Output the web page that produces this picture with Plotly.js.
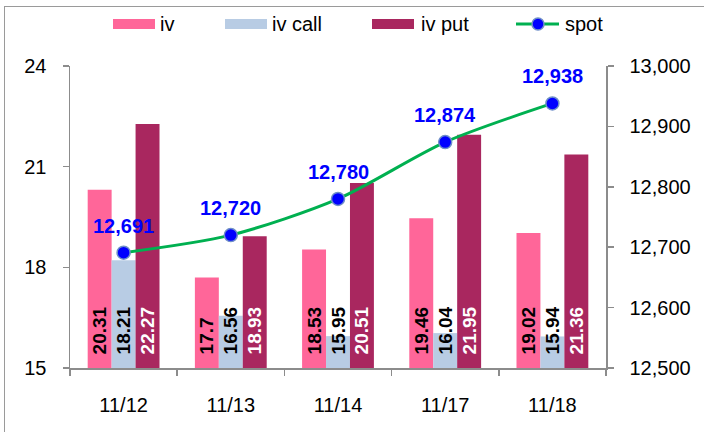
<!DOCTYPE html>
<html><head><meta charset="utf-8">
<script src="https://cdn.plot.ly/plotly-3.0.1.min.js"></script>
<style>
html,body{margin:0;padding:0;background:#fff;overflow:hidden;}
#chart{position:absolute;left:0;top:0;width:704px;height:432px;}
#frame{position:absolute;left:4px;top:6px;width:760px;height:500px;border:1px solid #9a9a9a;pointer-events:none;}
</style></head>
<body>
<div id="chart"></div>
<div id="frame"></div>
<script>
const categories = ['11/12','11/13','11/14','11/17','11/18'];
const iv     = [20.31, 17.7, 18.53, 19.46, 19.02];
const ivCall = [18.21, 16.56, 15.95, 16.04, 15.94];
const ivPut  = [22.27, 18.93, 20.51, 21.95, 21.36];
const spot   = [12691, 12720, 12780, 12874, 12938];
const leftTicks = [15, 18, 21, 24];
const rightTicks = [12500, 12600, 12700, 12800, 12900, 13000];

const BASE = 15;
const FONT = 'Liberation Sans, Arial, sans-serif';
const pad = '\u00a0\u00a0';
function barTrace(name, vals, color, txtColor){
  return {
    type:'bar', name:name, x:categories, y:vals.map(v=>v-BASE), base:BASE,
    marker:{color:color, line:{width:0}},
    text:vals.map(v=>pad+String(v)), textposition:'inside', insidetextanchor:'start',
    textangle:-90, constraintext:'none', cliponaxis:false,
    textfont:{family:FONT, size:19, color:txtColor, weight:'bold'},
    hoverinfo:'skip', showlegend:false
  };
}
const traces = [
  barTrace('iv', iv, '#FF6699', '#000000'),
  barTrace('iv call', ivCall, '#B8CCE4', '#000000'),
  barTrace('iv put', ivPut, '#A9275F', '#FFFFFF'),
  {
    type:'scatter', mode:'lines+markers', name:'spot', x:categories, y:spot, yaxis:'y2',
    line:{color:'#00B050', width:3, shape:'spline', smoothing:0.8},
    marker:{color:'#0000FF', size:13, line:{color:'#6F8FC8', width:1.5}},
    cliponaxis:false, hoverinfo:'skip', showlegend:false
  }
];

const L = 70, R = 606, T = 66, B = 368;
const px = x => (x - L) / (R - L);
const py = y => (B - y) / (B - T);
const legendItems = [
  {name:'iv', color:'#FF6699', kind:'bar', x0:113, tx:158},
  {name:'iv call', color:'#B8CCE4', kind:'bar', x0:225, tx:270},
  {name:'iv put', color:'#A9275F', kind:'bar', x0:372, tx:419},
  {name:'spot', color:'#00B050', kind:'line', x0:516, tx:563}
];
const shapes = [], annotations = [];
legendItems.forEach(it=>{
  if(it.kind==='bar'){
    shapes.push({type:'rect', xref:'paper', yref:'paper', x0:px(it.x0), x1:px(it.x0+42), y0:py(29), y1:py(19),
      fillcolor:it.color, line:{width:0}});
  } else {
    shapes.push({type:'line', xref:'paper', yref:'paper', x0:px(it.x0), x1:px(it.x0+43), y0:py(24), y1:py(24),
      line:{color:it.color, width:3}});
    shapes.push({type:'circle', xref:'paper', yref:'paper', x0:px(it.x0+16), x1:px(it.x0+28), y0:py(30), y1:py(18),
      fillcolor:'#0000FF', line:{color:'#6F8FC8', width:1.5}});
  }
  annotations.push({xref:'paper', yref:'paper', x:px(it.tx), y:py(24), xanchor:'left', yanchor:'middle',
    text:it.name, showarrow:false, font:{family:FONT, size:20, color:'#000'}});
});
spot.forEach((v,i)=>{
  annotations.push({xref:'x', yref:'y2', x:categories[i], y:v, xanchor:'center', yanchor:'middle', yshift:27,
    text:v.toLocaleString('en-US'), showarrow:false, font:{family:FONT, size:20, color:'#0000FF', weight:'bold'}});
});

const axisCommon = {showgrid:false, zeroline:false, showline:true, linecolor:'#8c8c8c', linewidth:1.5,
  ticks:'outside', ticklen:6, tickcolor:'#8c8c8c', tickwidth:1.5,
  tickfont:{family:FONT, size:20, color:'#000'}};

const layout = {
  width:704, height:432,
  margin:{l:L, r:704-R, t:T, b:432-B},
  paper_bgcolor:'#ffffff', plot_bgcolor:'#ffffff',
  barmode:'group', bargap:0.33, bargroupgap:0,
  showlegend:false,
  xaxis:Object.assign({}, axisCommon, {type:'category', tickson:'boundaries', ticklabelstandoff:18}),
  yaxis:Object.assign({}, axisCommon, {range:[15,24], tickvals:leftTicks, ticklabelstandoff:12}),
  yaxis2:Object.assign({}, axisCommon, {overlaying:'y', side:'right', range:[12500,13000], tickvals:rightTicks,
    tickformat:',d', ticklabelstandoff:12}),
  shapes:shapes, annotations:annotations
};
Plotly.newPlot('chart', traces, layout, {staticPlot:true, displayModeBar:false});
</script>
</body></html>
